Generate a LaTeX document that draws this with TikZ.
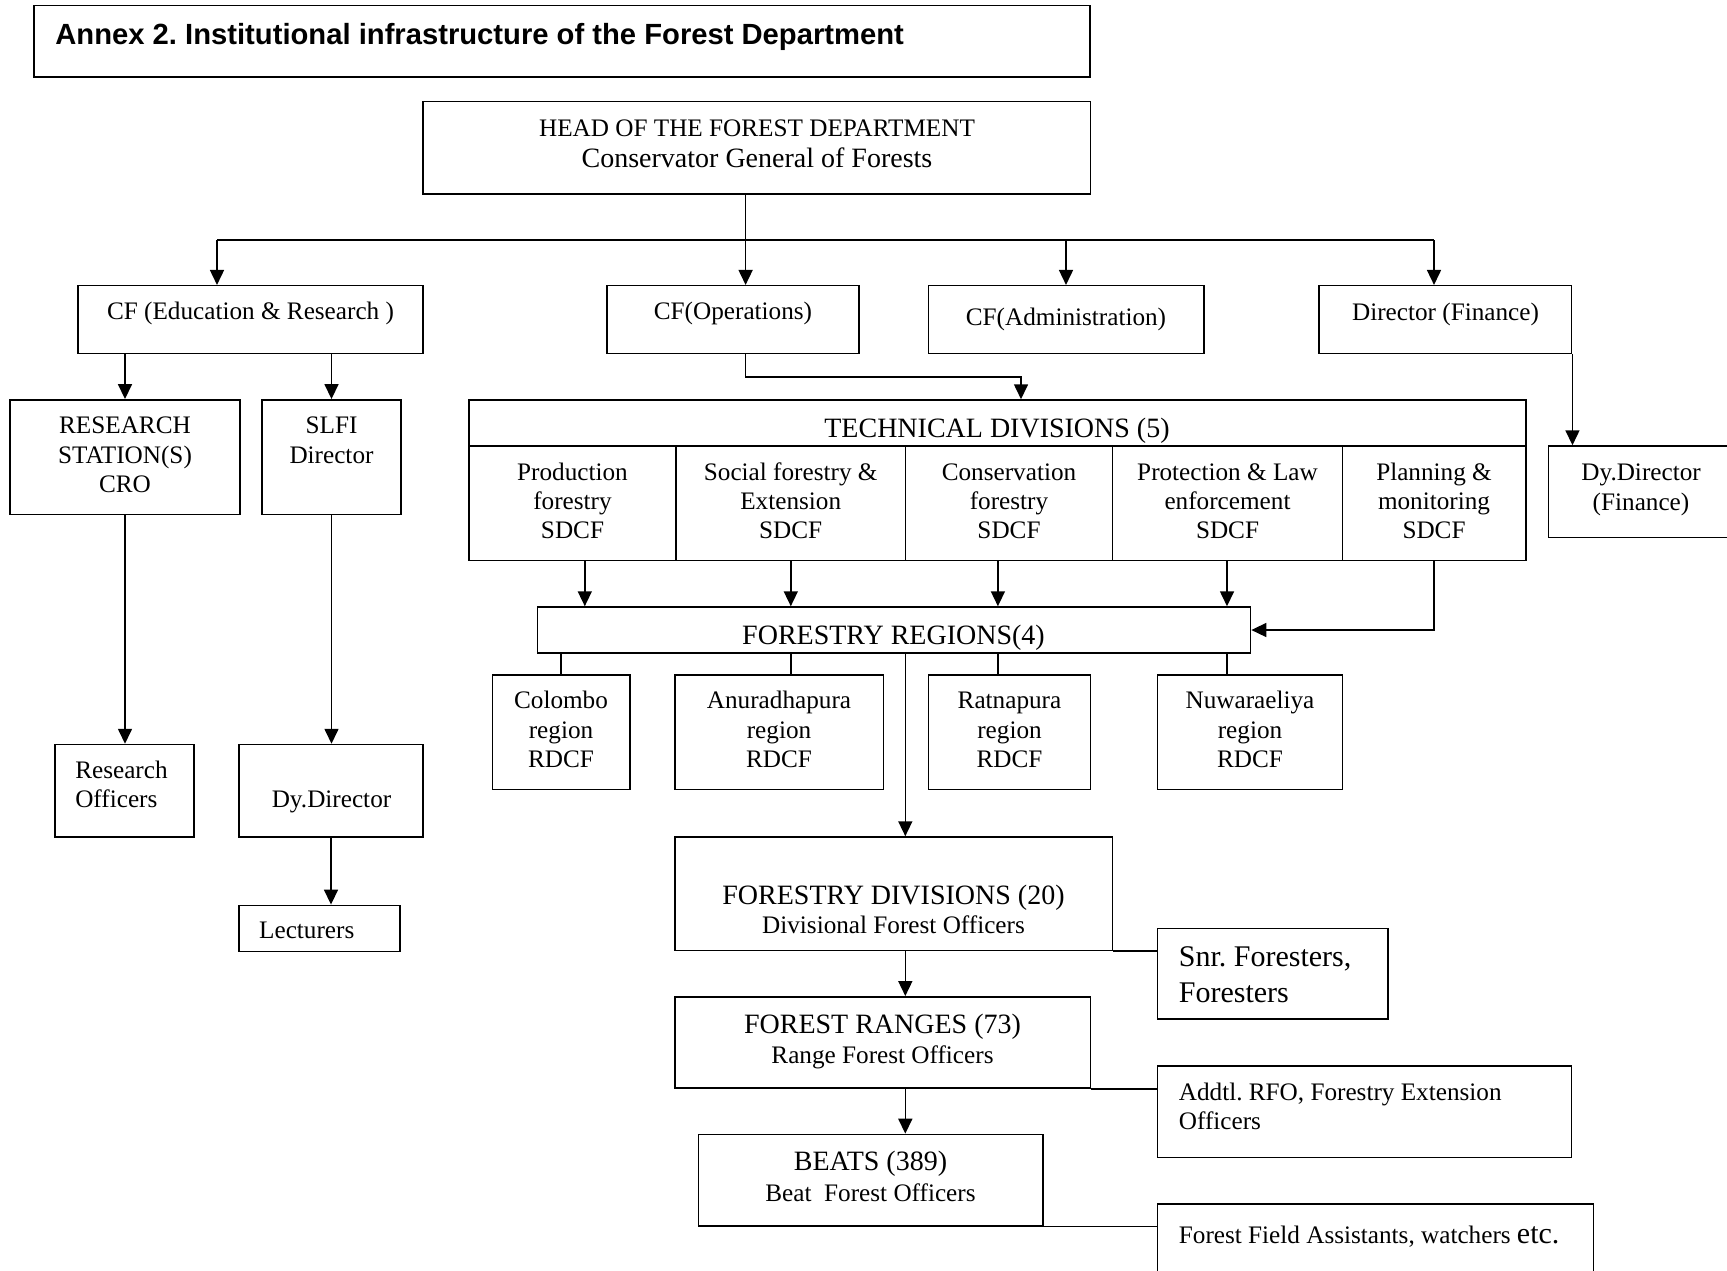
\documentclass[tikz,border=0pt]{standalone}
\usepackage{fontspec}
\setmainfont{Liberation Serif}
\newfontfamily\titlefont{Liberation Sans}
\usetikzlibrary{fit,arrows.meta}
\frenchspacing
\tikzset{
  box/.style={draw, line width=0.75pt, inner sep=0pt},
  conn/.style={line width=0.8pt},
  arr/.style={line width=0.8pt, -{Triangle[length=7.5pt,width=7pt]}},
  txt/.style={inner sep=0pt, anchor=base, font=\fontsize{12.6}{15}\selectfont},
  txtl/.style={inner sep=0pt, anchor=base west, font=\fontsize{12.6}{15}\selectfont},
  big/.style={font=\fontsize{14}{16}\selectfont},
}
\newcommand\bx[5]{\node[box, fit={(#2,#3) (#4,#5)}] (#1) {};}
\begin{document}
\begin{tikzpicture}[x=0.5pt,y=-0.5pt]
\useasboundingbox (0,0) rectangle (1727,1270);
\clip (0,0) rectangle (1727,1270);
% boxes
\bx{title}{34}{5.5}{1090}{77}
\bx{head}{423}{101.3}{1090.4}{193.8}
\bx{cfer}{78}{285.7}{423}{353.5}
\bx{cfops}{607}{285.7}{859}{353.5}
\bx{cfadm}{928.5}{285.7}{1204}{353.5}
\bx{dirfin}{1319}{285.7}{1571.7}{353.5}
\bx{research}{9.9}{399.8}{240.1}{514.4}
\bx{slfi}{262.1}{399.8}{400.9}{514.4}
\bx{tech}{469}{400}{1526}{560.6}
\bx{c1}{469}{446}{676}{560.6}
\bx{c2}{676}{446}{905.5}{560.6}
\bx{c3}{905.5}{446}{1112.4}{560.6}
\bx{c4}{1112.4}{446}{1342.5}{560.6}
\bx{c5}{1342.5}{446}{1526}{560.6}
\bx{dyfin}{1548.7}{446}{1745}{537.7}
\bx{fr}{537.5}{607}{1250.6}{653}
\bx{colombo}{492.3}{675.2}{630}{789.7}
\bx{anur}{675.2}{675.2}{883.3}{789.7}
\bx{ratna}{928.5}{675.2}{1090.4}{789.7}
\bx{nuwara}{1157.6}{675.2}{1342.6}{789.7}
\bx{resoff}{55.1}{744.5}{193.8}{837}
\bx{dydir}{239}{744.5}{423}{837}
\bx{lect}{239}{905.3}{399.8}{951.6}
\bx{fd}{675.2}{837}{1112.4}{950.5}
\bx{snr}{1157.6}{928.5}{1387.8}{1018.8}
\bx{franges}{675.2}{996.8}{1090.4}{1088.2}
\bx{addtl}{1157.6}{1066.2}{1571.7}{1157.6}
\bx{beats}{698.3}{1134.4}{1043}{1225.9}
\bx{ff}{1157.6}{1203.8}{1593.7}{1290}

% texts
\node[inner sep=0pt, anchor=base west, font=\titlefont\bfseries\fontsize{14.6}{17}\selectfont] (ttitle) at (55,44) {Annex 2. Institutional infrastructure of the Forest Department};
\node[txt] (thead1) at (757,136) {HEAD OF THE FOREST DEPARTMENT};
\node[txt,big] (thead2) at (757,167) {Conservator General of Forests};
\node[txt] (tcfer) at (250.5,319.5) {CF (Education \& Research )};
\node[txt] (tcfops) at (733,319.5) {CF(Operations)};
\node[txt] (tcfadm) at (1066,325) {CF(Administration)};
\node[txt] (tdirfin) at (1445.5,320) {Director (Finance)};
\node[txt] (tres1) at (125,433) {RESEARCH};
\node[txt] (tres2) at (125,463) {STATION(S)};
\node[txt] (tres3) at (125,492.5) {CRO};
\node[txt] (tslfi1) at (331.5,433) {SLFI};
\node[txt] (tslfi2) at (331.5,463) {Director};
\node[txt,big] (ttech) at (997,437.5) {TECHNICAL DIVISIONS (5)};
\node[txt] (tc1a) at (572.5,480) {Production};
\node[txt] (tc1b) at (572.5,509.5) {forestry};
\node[txt] (tc1c) at (572.5,538.5) {SDCF};
\node[txt] (tc2a) at (790.7,480) {Social forestry \&};
\node[txt] (tc2b) at (790.7,509.5) {Extension};
\node[txt] (tc2c) at (790.7,538.5) {SDCF};
\node[txt] (tc3a) at (1009,480) {Conservation};
\node[txt] (tc3b) at (1009,509.5) {forestry};
\node[txt] (tc3c) at (1009,538.5) {SDCF};
\node[txt] (tc4a) at (1227.5,480) {Protection \& Law};
\node[txt] (tc4b) at (1227.5,509.5) {enforcement};
\node[txt] (tc4c) at (1227.5,538.5) {SDCF};
\node[txt] (tc5a) at (1434,480) {Planning \&};
\node[txt] (tc5b) at (1434,509.5) {monitoring};
\node[txt] (tc5c) at (1434,538.5) {SDCF};
\node[txt] (tdyfin1) at (1641,480) {Dy.Director};
\node[txt] (tdyfin2) at (1641,510) {(Finance)};
\node[txt,big] (tfr) at (893.5,644.5) {FORESTRY REGIONS(4)};
\node[txt] (tcol1) at (561,708.5) {Colombo};
\node[txt] (tcol2) at (561,738) {region};
\node[txt] (tcol3) at (561,767) {RDCF};
\node[txt] (tanu1) at (779,708.5) {Anuradhapura};
\node[txt] (tanu2) at (779,738) {region};
\node[txt] (tanu3) at (779,767) {RDCF};
\node[txt] (trat1) at (1009.5,708.5) {Ratnapura};
\node[txt] (trat2) at (1009.5,738) {region};
\node[txt] (trat3) at (1009.5,767) {RDCF};
\node[txt] (tnuw1) at (1250,708.5) {Nuwaraeliya};
\node[txt] (tnuw2) at (1250,738) {region};
\node[txt] (tnuw3) at (1250,767) {RDCF};
\node[txtl] (tresoff1) at (74.9,778) {Research};
\node[txtl] (tresoff2) at (74.9,807.5) {Officers};
\node[txt] (tdydir) at (331.5,807.5) {Dy.Director};
\node[txtl] (tlect) at (258.8,938.5) {Lecturers};
\node[txt,big] (tfd1) at (893.5,904) {FORESTRY DIVISIONS (20)};
\node[txt] (tfd2) at (893.5,933) {Divisional Forest Officers};
\node[txtl,font=\fontsize{15}{18}\selectfont] (tsnr1) at (1178.5,966) {Snr. Foresters,};
\node[txtl,font=\fontsize{15}{18}\selectfont] (tsnr2) at (1178.5,1002.5) {Foresters};
\node[txt,big] (tfrg1) at (882.5,1033) {FOREST RANGES (73)};
\node[txt] (tfrg2) at (882.5,1063) {Range Forest Officers};
\node[txtl] (tadd1) at (1178.5,1100.5) {Addtl. RFO, Forestry Extension};
\node[txtl] (tadd2) at (1178.5,1129) {Officers};
\node[txt,big] (tbeat1) at (870.5,1170.5) {BEATS (389)};
\node[txt] (tbeat2) at (870.5,1201) {Beat\ \ Forest Officers};
\node[txtl] (tff) at (1178.5,1243) {Forest Field Assistants, watchers {\fontsize{15}{18}\selectfont etc.}};

% connectors
\coordinate (bus) at (745.6,240);
\coordinate (busL) at (217,240);
\coordinate (busA) at (1066,240);
\coordinate (busR) at (1434,240);
\draw[arr] (head.south -| bus) -- (cfops.north -| bus);
\draw[conn] (busL) -- (busR);
\draw[arr] (busL) -- (busL |- cfer.north);
\draw[arr] (busA) -- (busA |- cfadm.north);
\draw[arr] (busR) -- (busR |- dirfin.north);
\coordinate (opsT) at (1021,376.7);
\draw[arr] (cfops.south -| bus) |- (opsT) -- (opsT |- tech.north);
\draw[arr] (dirfin.south east) -- (dirfin.south east |- dyfin.north);
\draw[arr] (cfer.south -| research.north) -- (research.north);
\draw[arr] (cfer.south -| slfi.north) -- (slfi.north);
\draw[arr] (research.south) -- (research.south |- resoff.north);
\draw[arr] (slfi.south) -- (slfi.south |- dydir.north);
\draw[arr] (dydir.south) -- (dydir.south |- lect.north);
\coordinate (a1) at (584.8,0);
\coordinate (a2) at (790.8,0);
\coordinate (a3) at (997.9,0);
\coordinate (a4) at (1227,0);
\draw[arr] (c1.south -| a1) -- (fr.north -| a1);
\draw[arr] (c2.south -| a2) -- (fr.north -| a2);
\draw[arr] (c3.south -| a3) -- (fr.north -| a3);
\draw[arr] (c4.south -| a4) -- (fr.north -| a4);
\draw[arr] (c5.south) |- (fr.east);
\draw[conn] (colombo.north |- fr.south) -- (colombo.north);
\draw[conn] (fr.south -| a2) -- (anur.north -| a2);
\draw[conn] (fr.south -| a3) -- (ratna.north -| a3);
\draw[conn] (fr.south -| a4) -- (nuwara.north -| a4);
\coordinate (spine) at (905.3,0);
\draw[arr] (fr.south -| spine) -- (fd.north -| spine);
\draw[arr] (fd.south -| spine) -- (franges.north -| spine);
\draw[arr] (franges.south -| spine) -- (beats.north -| spine);
\draw[conn] (fd.south east) -- (fd.south east -| snr.west);
\draw[conn] (franges.south east) -- (franges.south east -| addtl.west);
\draw[conn] (beats.south east) -- (beats.south east -| ff.west);
\end{tikzpicture}
\end{document}
